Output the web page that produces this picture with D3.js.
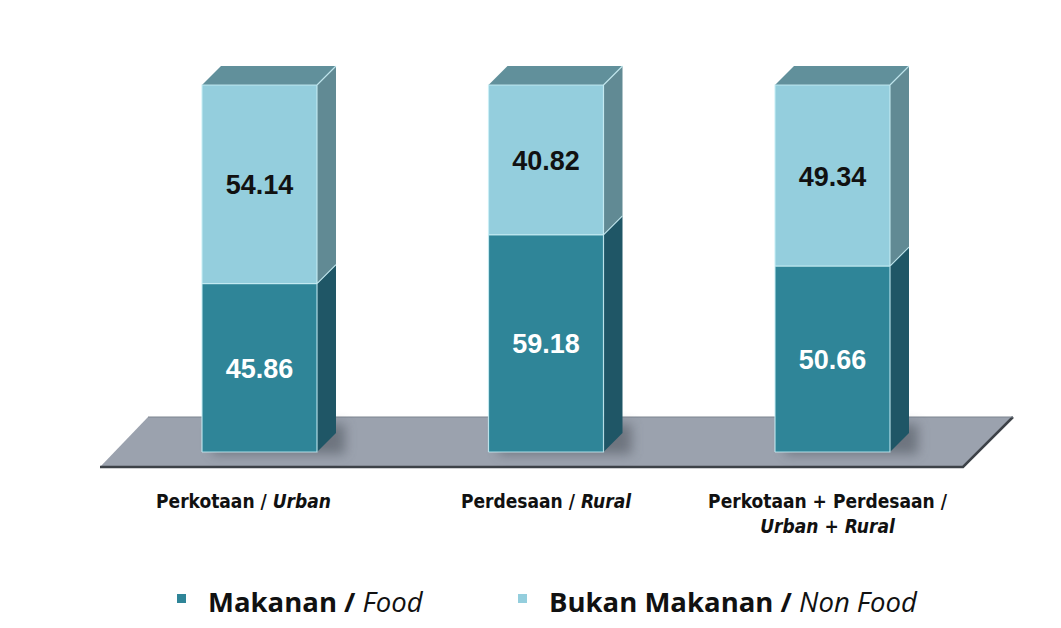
<!DOCTYPE html>
<html>
<head>
<meta charset="utf-8">
<script src="https://cdn.jsdelivr.net/npm/d3@7"></script>
<style>
  body { margin: 0; background: #fff; }
</style>
</head>
<body>
<div id="chart"></div>
<script>
// Data
const categories = ["Perkotaan / Urban", "Perdesaan / Rural", "Perkotaan + Perdesaan / Urban + Rural"];
const labelLines = [
  [["Perkotaan / ", "Urban"]],
  [["Perdesaan / ", "Rural"]],
  [["Perkotaan + Perdesaan /", ""], ["", "Urban + Rural"]]
];
const food = [45.86, 59.18, 50.66];
const nonFood = [54.14, 40.82, 49.34];
const seriesNames = [["Makanan / ", "Food"], ["Bukan Makanan / ", "Non Food"]];

const W = 1061, H = 628;
const barW = 115;
const dx = 19, dy = -19;

const svg = d3.select("#chart").append("svg")
  .attr("width", W).attr("height", H);

const defs = svg.append("defs");
defs.append("filter").attr("id", "blur")
  .attr("x", "-50%").attr("y", "-50%").attr("width", "200%").attr("height", "200%")
  .append("feGaussianBlur").attr("stdDeviation", 6);

// Scales
const x = d3.scalePoint()
  .domain(categories)
  .range([259.5, 832.5]);

const y = d3.scaleLinear()
  .domain([0, 100])
  .range([452, 85]);

// Floor
const floorTop = 417, floorBot = 467;
svg.append("polygon")
  .attr("points", `148,${floorTop} 1013,${floorTop} 963,${floorBot} 100,${floorBot}`)
  .attr("fill", "#9ba2ae");
svg.append("polyline")
  .attr("points", `100,${floorBot} 963,${floorBot} 1013,${floorTop}`)
  .attr("fill", "none").attr("stroke", "#3d4248").attr("stroke-width", 2.5);
svg.append("line")
  .attr("x1", 148).attr("y1", floorTop).attr("x2", 1013).attr("y2", floorTop)
  .attr("stroke", "#7d848f").attr("stroke-width", 1);

const colors = {
  food: { front: "#2f8598", side: "#1f5666" },
  non: { front: "#94cedd", side: "#618a94" },
  top: "#61909b"
};

const data = categories.map((c, i) => ({ cat: c, food: food[i], non: nonFood[i], i }));

const bars = svg.selectAll(".bar")
  .data(data)
  .enter()
  .append("g")
  .attr("class", "bar");

// shadow at base
bars.append("rect")
  .attr("x", d => x(d.cat) - barW / 2 + 10)
  .attr("y", y(0) - 28)
  .attr("width", barW + 18)
  .attr("height", 30)
  .attr("fill", "#4a5058")
  .attr("opacity", 0.55)
  .attr("filter", "url(#blur)");

function segment(g, x0, yTop, yBot, c) {
  // side
  g.append("polygon")
    .attr("points", `${x0 + barW},${yTop} ${x0 + barW + dx},${yTop + dy} ${x0 + barW + dx},${yBot + dy} ${x0 + barW},${yBot}`)
    .attr("fill", c.side);
  // front
  g.append("rect")
    .attr("x", x0).attr("y", yTop)
    .attr("width", barW).attr("height", yBot - yTop)
    .attr("fill", c.front);
}

bars.each(function(d) {
  const g = d3.select(this);
  const x0 = x(d.cat) - barW / 2;
  const yb = y(0), ym = y(d.food), yt = y(100);
  segment(g, x0, ym, yb, colors.food);
  segment(g, x0, yt, ym, colors.non);
  // top
  g.append("polygon")
    .attr("points", `${x0},${yt} ${x0 + dx},${yt + dy} ${x0 + barW + dx},${yt + dy} ${x0 + barW},${yt}`)
    .attr("fill", colors.top);
  // light edges
  g.append("path")
    .attr("d", `M${x0},${yb} L${x0},${yt} L${x0 + barW},${yt} L${x0 + barW},${yb} L${x0},${yb}
                M${x0 + barW},${yt} L${x0 + barW + dx},${yt + dy}
                M${x0 + barW},${ym} L${x0 + barW + dx},${ym + dy}
                M${x0},${ym} L${x0 + barW},${ym}`)
    .attr("fill", "none").attr("stroke", "#c9eef6").attr("stroke-width", 1.2).attr("opacity", 0.85);
});

// Value labels
bars.append("text")
  .attr("x", d => x(d.cat))
  .attr("y", d => (y(100) + y(d.food)) / 2 + 10)
  .attr("text-anchor", "middle")
  .attr("font-family", "Liberation Sans, Arial, sans-serif")
  .attr("font-weight", "bold")
  .attr("font-size", "27px")
  .attr("fill", "#111")
  .text(d => d.non.toFixed(2));

bars.append("text")
  .attr("x", d => x(d.cat))
  .attr("y", d => (y(d.food) + y(0)) / 2 + 10)
  .attr("text-anchor", "middle")
  .attr("font-family", "Liberation Sans, Arial, sans-serif")
  .attr("font-weight", "bold")
  .attr("font-size", "27px")
  .attr("fill", "#fff")
  .text(d => d.food.toFixed(2));

// Category labels
const catFont = "'Liberation Sans Narrow', 'DejaVu Sans Condensed', sans-serif";
data.forEach(d => {
  labelLines[d.i].forEach((line, li) => {
    const t = svg.append("text")
      .attr("x", x(d.cat) - (d.i === 0 ? 16 : d.i === 2 ? 5 : 0))
      .attr("y", 508 + li * 25)
      .attr("text-anchor", "middle")
      .attr("font-family", catFont)
      .attr("font-weight", "bold")
      .attr("font-size", "19px")
      .attr("fill", "#111");
    if (line[0]) t.append("tspan").text(line[0]);
    if (line[1]) t.append("tspan").attr("font-style", "italic").text(line[1]);
  });
});

// Legend
const legendX = [177, 518];
const legendColors = [colors.food.front, colors.non.front];
const legend = svg.selectAll(".legend")
  .data(seriesNames)
  .enter()
  .append("g")
  .attr("class", "legend");

legend.append("rect")
  .attr("x", (d, i) => legendX[i])
  .attr("y", 594)
  .attr("width", 9).attr("height", 9)
  .attr("fill", (d, i) => legendColors[i]);

const lt = legend.append("text")
  .attr("x", (d, i) => legendX[i] + 31)
  .attr("y", 612)
  .attr("font-family", "'Open Sans', Lato, sans-serif")
  .attr("font-size", "27.5px")
  .attr("fill", "#111");
lt.append("tspan").attr("font-weight", "bold").text(d => d[0]);
lt.append("tspan").attr("font-style", "italic").text(d => d[1]);
</script>
</body>
</html>
